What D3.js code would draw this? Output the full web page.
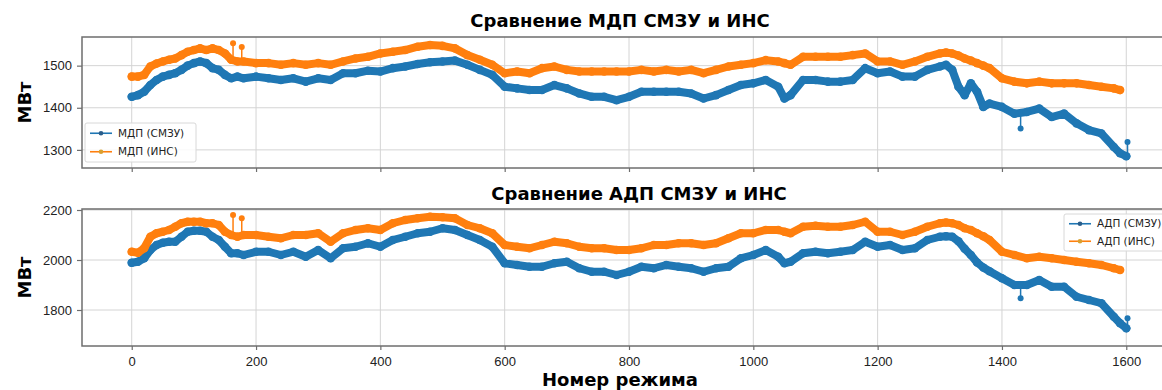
<!DOCTYPE html>
<html>
<head>
<meta charset="utf-8">
<title>Сравнение МДП и АДП</title>
<style>
  body { margin: 0; background: #fff; }
  svg { display: block; font-family: "DejaVu Sans", sans-serif; }
  .grid line { stroke: #d4d4d4; stroke-width: 1; }
  .frame { fill: none; stroke: #6e6e6e; stroke-width: 1.5; }
  .axis text { font-size: 13px; fill: #222; }
  .axis line { stroke: #6e6e6e; stroke-width: 1.2; }
  .axis path { display: none; }
  .title { font-size: 18px; font-weight: bold; text-anchor: middle; }
  .label { font-size: 18px; font-weight: bold; text-anchor: middle; }
  .legend text { font-size: 10.5px; fill: #222; }
</style>
</head>
<body>
<svg width="1162" height="390"></svg>
<script src="https://cdn.jsdelivr.net/npm/d3@7"></script>
<script>
// номера режимов, в которых сняты значения
const modes = [0,10,20,30,40,50,60,70,80,90,100,110,120,130,140,150,160,170,180,
  200,220,240,260,280,300,320,340,360,380,400,420,440,460,480,500,520,540,560,580,
  600,620,640,660,680,700,720,740,760,780,800,820,840,860,880,900,920,940,960,980,
  1000,1020,1040,1050,1060,1080,1100,1120,1140,1160,1180,1200,1220,1240,1260,1280,
  1300,1310,1320,1330,1340,1350,1360,1370,1380,1400,1420,1440,1460,1480,1500,1520,
  1540,1560,1580,1590,1600];

// МДП, МВт
const mdpSmzu = [1426,1430,1438,1454,1466,1474,1478,1482,1490,1500,1506,1510,1506,1494,1490,1478,1470,1474,1470,
  1474,1470,1466,1470,1462,1470,1466,1482,1482,1488,1486,1494,1498,1504,1508,1510,1512,1502,1490,1478,
  1450,1446,1442,1442,1454,1446,1434,1426,1426,1418,1426,1438,1438,1438,1438,1434,1422,1430,1442,1454,
  1458,1466,1450,1422,1430,1466,1466,1462,1462,1466,1494,1482,1486,1474,1474,1490,
  1498,1502,1490,1450,1430,1458,1438,1402,1410,1402,1386,1390,1398,1378,1386,1363,
  1347,1339,1307,1292,1285];
const mdpIns = [1474,1474,1478,1498,1505,1510,1514,1517,1525,1533,1537,1541,1537,1541,1537,1529,1514,1510,1510,
  1506,1506,1502,1506,1502,1506,1502,1510,1517,1521,1529,1533,1537,1545,1549,1547,1541,1525,1514,1502,
  1482,1486,1482,1494,1498,1490,1486,1486,1486,1486,1486,1490,1486,1490,1486,1490,1482,1490,1498,1502,
  1506,1513,1510,1506,1502,1521,1521,1521,1521,1525,1529,1510,1510,1502,1510,1521,
  1529,1531,1529,1524,1517,1512,1506,1500,1494,1470,1462,1458,1462,1458,1458,1458,
  1454,1450,1446,1442];

// АДП, МВт
const adpSmzu = [1989,1993,2007,2040,2060,2069,2073,2073,2093,2113,2117,2117,2113,2093,2080,2053,2027,2027,2020,
  2033,2033,2020,2033,2013,2040,2007,2047,2053,2067,2053,2080,2093,2107,2113,2127,2120,2100,2080,2053,
  1987,1980,1973,1973,1987,1993,1967,1953,1953,1940,1953,1973,1967,1980,1973,1967,1953,1967,1973,2007,
  2020,2040,2013,1987,1993,2027,2033,2027,2033,2040,2073,2053,2060,2040,2047,2080,
  2093,2095,2093,2075,2045,2020,1990,1970,1955,1927,1900,1900,1920,1893,1893,1853,
  1840,1827,1773,1747,1727];
const adpIns = [2033,2029,2047,2093,2107,2113,2120,2133,2147,2153,2153,2153,2147,2147,2140,2113,2100,2093,2100,
  2100,2093,2087,2100,2100,2107,2073,2107,2120,2127,2120,2147,2160,2167,2173,2171,2167,2140,2127,2107,
  2060,2053,2047,2060,2073,2067,2053,2047,2047,2040,2040,2047,2060,2060,2067,2067,2060,2067,2087,2107,
  2107,2120,2120,2113,2107,2133,2137,2133,2133,2140,2153,2113,2113,2100,2113,2133,
  2147,2150,2147,2140,2127,2120,2107,2095,2080,2033,2020,2007,2013,2007,2000,1993,
  1987,1980,1967,1960];

// одиночные выбросы [режим, МВт]
const mdpSmzuOut = [[1430,1351],[1602,1319]];
const mdpInsOut = [[163,1553],[177,1544]];
const adpSmzuOut = [[1430,1847],[1602,1767]];
const adpInsOut = [[163,2180],[177,2167]];

const xTicks = [0,200,400,600,800,1000,1200,1400,1600];
const mdpTicks = [1300,1400,1500];
const adpTicks = [1800,2000,2200];

const blue = '#1f77b4', orange = '#ff7f0e';

const svg = d3.select('svg');
const x = d3.scaleLinear().domain([-80, 1680]).range([82, 1176]);

const panels = [
  { title: 'Сравнение МДП СМЗУ и ИНС', titleX: 620, titleY: 27,
    domain: [1257, 1568], top: 37, bottom: 168, ticks: mdpTicks, showX: false,
    series: [
      { name: 'МДП (СМЗУ)', values: mdpSmzu, out: mdpSmzuOut, color: blue },
      { name: 'МДП (ИНС)', values: mdpIns, out: mdpInsOut, color: orange } ],
    legend: { x: 85, y: 123, w: 111, h: 39 } },
  { title: 'Сравнение АДП СМЗУ и ИНС', titleX: 639, titleY: 200,
    domain: [1656, 2204], top: 209, bottom: 346, ticks: adpTicks, showX: true,
    series: [
      { name: 'АДП (СМЗУ)', values: adpSmzu, out: adpSmzuOut, color: blue },
      { name: 'АДП (ИНС)', values: adpIns, out: adpInsOut, color: orange } ],
    legend: { x: 1064, y: 214, w: 112, h: 37 } }
];

panels.forEach((p, i) => {
  const y = d3.scaleLinear().domain(p.domain).range([p.bottom, p.top]);
  const g = svg.append('g');
  const left = x.range()[0], right = x.range()[1];

  // сетка
  const grid = g.append('g').attr('class', 'grid');
  grid.selectAll('.gx').data(xTicks).join('line')
    .attr('x1', d => x(d)).attr('x2', d => x(d))
    .attr('y1', p.top).attr('y2', p.bottom);
  grid.selectAll('.gy').data(p.ticks).join('line')
    .attr('x1', left).attr('x2', right)
    .attr('y1', d => y(d)).attr('y2', d => y(d));

  // данные
  g.append('clipPath').attr('id', 'clip' + i)
    .append('rect').attr('x', left).attr('y', p.top)
    .attr('width', right - left).attr('height', p.bottom - p.top);
  const plot = g.append('g').attr('clip-path', `url(#clip${i})`);
  const line = d3.line().x((d, k) => x(modes[k])).y(d => y(d));

  p.series.forEach(s => {
    const sg = plot.append('g');
    // выбросы: тонкая линия от основной кривой до точки
    s.out.forEach(([m, v]) => {
      const k = d3.bisectLeft(modes, m);
      const k0 = Math.max(0, k - 1), k1 = Math.min(modes.length - 1, k);
      const t = modes[k1] === modes[k0] ? 0 : (m - modes[k0]) / (modes[k1] - modes[k0]);
      const base = s.values[k0] + t * (s.values[k1] - s.values[k0]);
      sg.append('line')
        .attr('x1', x(m)).attr('x2', x(m))
        .attr('y1', y(base)).attr('y2', y(v))
        .attr('stroke', s.color).attr('stroke-width', 1.5);
      sg.append('circle').attr('cx', x(m)).attr('cy', y(v)).attr('r', 3)
        .attr('fill', s.color);
    });
    sg.append('path').datum(s.values)
      .attr('d', line)
      .attr('fill', 'none')
      .attr('stroke', s.color)
      .attr('stroke-width', 8)
      .attr('stroke-linejoin', 'round')
      .attr('stroke-linecap', 'round');
    sg.selectAll('circle.pt').data(s.values).join('circle')
      .attr('class', 'pt')
      .attr('cx', (d, k) => x(modes[k]))
      .attr('cy', d => y(d))
      .attr('r', 4.3)
      .attr('fill', s.color);
  });

  // оси
  g.append('g').attr('class', 'axis')
    .attr('transform', `translate(${left},0)`)
    .call(d3.axisLeft(y).tickValues(p.ticks).tickFormat(d3.format('d')).tickSize(5).tickPadding(5));
  g.append('g').attr('class', 'axis')
    .attr('transform', `translate(0,${p.bottom})`)
    .call(d3.axisBottom(x).tickValues(xTicks)
      .tickFormat(p.showX ? d3.format('d') : '')
      .tickSize(4).tickPadding(7));

  g.append('rect').attr('class', 'frame')
    .attr('x', left).attr('y', p.top)
    .attr('width', right - left).attr('height', p.bottom - p.top);

  // заголовки
  svg.append('text').attr('class', 'title')
    .attr('x', p.titleX).attr('y', p.titleY).text(p.title);
  svg.append('text').attr('class', 'label')
    .attr('transform', `translate(31,${(p.top + p.bottom) / 2}) rotate(-90)`)
    .text('МВт');

  // легенда
  const lg = svg.append('g').attr('class', 'legend')
    .attr('transform', `translate(${p.legend.x},${p.legend.y})`);
  lg.append('rect').attr('width', p.legend.w).attr('height', p.legend.h)
    .attr('rx', 2).attr('fill', '#fff').attr('fill-opacity', 0.85)
    .attr('stroke', '#d8d8d8');
  const rowH = (p.legend.h - 2) / 2;
  p.series.forEach((s, k) => {
    const ry = 1 + rowH * k + rowH / 2;
    lg.append('line').attr('x1', 5).attr('x2', 27).attr('y1', ry).attr('y2', ry)
      .attr('stroke', s.color).attr('stroke-width', 1.6);
    lg.append('circle').attr('cx', 16).attr('cy', ry).attr('r', 2.3)
      .attr('fill', k === 0 ? '#2a5d8a' : '#d9a030');
    lg.append('text').attr('x', 33).attr('y', ry).attr('dy', '0.35em').text(s.name);
  });
});

svg.append('text').attr('class', 'label')
  .attr('x', 620).attr('y', 386).text('Номер режима');
</script>
</body>
</html>
